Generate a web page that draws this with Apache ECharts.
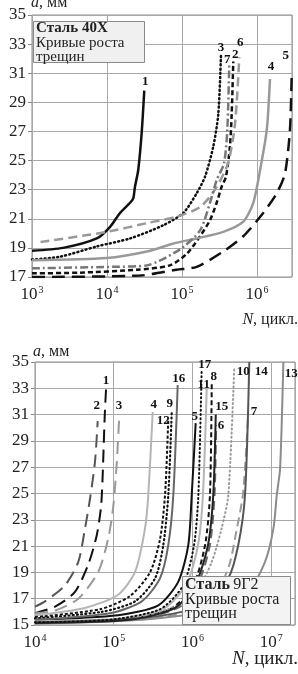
<!DOCTYPE html>
<html><head><meta charset="utf-8">
<script src="https://cdn.jsdelivr.net/npm/echarts@6/dist/echarts.min.js"></script>
<style>html,body{margin:0;padding:0;background:#fff}#c{width:298px;height:674px}</style>
</head><body><div id="c"></div>
<script>
// ---------- Top chart: Сталь 40Х ----------
const topXExps = [3, 4, 5, 6];
const topYTicks = [17, 35, 2]; // min, max, step
const t1 = [[1000,18.8],[2600,19.0],[7300,19.65],[11000,20.45],[14900,21.4],[20300,22.1],[22400,22.4],[23600,23.2],[26100,24.35],[29000,26.9],[31400,29.8]];
const t2 = [[1000,17.25],[4400,17.3],[25000,17.5],[69000,17.8],[116000,18.6],[174000,19.8],[236000,20.9],[290000,22.1],[338000,23.2],[386000,23.9],[436000,26],[460000,28.2],[483000,31.8]];
const t3 = [[1000,18.2],[2400,18.4],[7300,19.1],[20300,19.65],[56000,20.55],[104000,21.4],[157000,22.75],[203000,23.9],[261000,25.95],[305000,28.2],[331000,32.25]];
const t4 = [[1000,18.15],[9900,18.3],[34000,18.75],[77000,19.3],[157000,19.65],[355000,20.1],[656000,20.8],[893000,22.1],[1100000,24.35],[1350000,27.1],[1490000,30.6]];
const t5 = [[1000,17.0],[27500,17.1],[85000,17.5],[157000,17.7],[355000,18.75],[656000,19.8],[1210000,21.4],[1830000,22.75],[2360000,24.1],[2750000,27.1],[2900000,30.75]];
const t6 = [[1300,19.4],[9900,20.1],[34000,20.7],[85000,21.15],[174000,21.8],[275000,23.0],[410000,24.8],[509000,27.5],[581000,32.1]];
const t7 = [[1000,17.6],[12000,17.7],[34000,17.8],[94000,18.9],[174000,20.2],[236000,22.1],[290000,23.66],[363000,24.8],[402000,27.1],[427000,31.7]];

// ---------- Bottom chart: Сталь 9Г2 ----------
const botXExps = [4, 5, 6, 7];
const botYTicks = [15, 35, 2];
const b1 = [[10000,15.9],[18000,16.4],[32000,17.5],[47500,19.6],[61000,21.85],[69000,24],[72000,26],[74000,28],[77000,31],[80000,33]];
const b2 = [[10000,16.4],[13400,16.8],[24000,18.0],[35500,19.8],[43200,22.35],[50000,24.6],[57800,27.4],[62600,30.5]];
const b3 = [[10000,15.9],[18000,16.1],[35500,17.0],[63700,19.05],[85300,21.6],[99000,24.1],[109000,27.2],[117000,30.6]];
const b4 = [[10000,15.75],[43000,16.3],[114000,17.3],[187000,19.05],[250000,22.35],[275000,24.9],[313000,31.2]];
const b5 = [[10000,15.4],[114000,15.75],[369000,16.5],[662000,18.3],[887000,21.1],[980000,24.9],[1100000,30.35]];
const b6 = [[10000,15.2],[216000,15.5],[695000,16.4],[1210000,18.3],[1670000,21.1],[1910000,24.9],[2000000,30.2]];
const b7 = [[216000,15.4],[933000,16.0],[1940000,17.3],[2920000,19.5],[3580000,22],[4400000,25],[5080000,30.8]];
const b8 = [[10000,15.2],[120000,15.4],[519000,16.2],[1020000,18.0],[1450000,21.1],[1670000,24.9],[1760000,33.4]];
const b9 = [[10000,15.5],[70000,16.0],[187000,16.8],[335000,18.55],[427000,21.1],[494000,24.9],[546000,31.2]];
const b10 = [[10000,15.2],[161000,15.5],[662000,16.5],[1190000,17.8],[1760000,19.8],[2350000,22.35],[2860000,24.9],[3400000,34.6]];
const b11 = [[10000,15.3],[120000,15.5],[449000,16.3],[853000,18.2],[1180000,21.1],[1360000,24.9],[1520000,33]];
const b12 = [[10000,15.6],[67000,16.2],[161000,17.2],[289000,19.0],[387000,21.5],[449000,24.9],[494000,30.7]];
const b13 = [[10000,15.1],[120000,15.3],[805000,15.75],[2350000,16.3],[5130000,17.5],[8360000,19.8],[10700000,22.35],[11800000,24.9],[13000000,26.9],[14300000,35]];
const b14 = [[10000,15.2],[187000,15.5],[731000,16.0],[1590000,16.8],[2860000,18.55],[3830000,21.1],[4660000,24.9],[5280000,35.0]];
const b15 = [[10000,15.15],[161000,15.4],[601000,16.3],[1110000,18.2],[1580000,21.1],[1840000,24.9],[1980000,31.0]];
const b16 = [[10000,15.4],[90000,15.9],[227000,16.8],[387000,18.55],[494000,21.1],[572000,24.9],[650000,33.25]];
const b17 = [[10000,15.2],[90000,15.4],[387000,16.2],[759000,18.0],[1050000,21.1],[1190000,24.9],[1310000,34.4]];

const FONT = 'Liberation Serif';
const DOT = [1, 3.2], SDASH = [5, 3], LDASH = [13, 7], MDASH = [9, 5], DASHDOT = [8, 3, 2, 3];

function curve(name, data, gi, color, type, width, off) {
  const last = data[data.length - 1];
  return {
    type: 'line', name, data, xAxisIndex: gi, yAxisIndex: gi,
    showSymbol: false, symbol: 'none', smooth: 0.25, z: 3,
    lineStyle: { color, type, width, cap: type === DOT ? 'round' : 'butt' },
    silent: true, animation: false,
    markPoint: {
      symbol: 'circle', symbolSize: 1, itemStyle: { color: 'rgba(0,0,0,0)' }, animation: false,
      label: { show: true, position: 'inside', formatter: name, offset: off, color: '#111',
        fontFamily: FONT, fontWeight: 'bold', fontSize: 13 },
      data: [{ coord: last }]
    }
  };
}

function xLabel(exps) {
  return function (v) {
    const l = Math.log10(v), e = Math.round(l);
    if (Math.abs(l - e) > 1e-6 || exps.indexOf(e) < 0) return '';
    return '{b|10}{s|' + e + '}';
  };
}
const xRich = {
  b: { fontFamily: FONT, fontSize: 17, color: '#222', lineHeight: 20 },
  s: { fontFamily: FONT, fontSize: 10, color: '#222', verticalAlign: 'top', lineHeight: 20, padding: [0, 0, 0, 1] }
};
function xAxis(gi, exps, maxV) {
  return {
    type: 'log', logBase: 10, gridIndex: gi, min: Math.pow(10, exps[0]), max: maxV,
    axisLine: { show: false }, axisTick: { show: false },
    axisLabel: { formatter: xLabel(exps), rich: xRich, margin: 8, showMaxLabel: false, hideOverlap: false },
    splitLine: { show: true, lineStyle: { color: '#a8a8a8', width: 1 } }, minorSplitLine: { show: false }
  };
}
function yAxis(gi, t) {
  return {
    type: 'value', gridIndex: gi, min: t[0], max: t[1], interval: t[2],
    axisLine: { show: false },
    axisTick: { show: true, length: 4, lineStyle: { color: '#888' } },
    axisLabel: { fontFamily: FONT, fontSize: 17, color: '#222', margin: 6 },
    splitLine: { show: true, lineStyle: { color: '#a8a8a8', width: 1 } }
  };
}

const K = '#111', DG = '#555', G = '#8c8c8c', LG = '#b5b5b5';
const series = [
  curve('1', t1, 0, K, 'solid', 2.5, [1, -9]),
  curve('2', t2, 0, K, SDASH, 2.5, [2, -7]),
  curve('3', t3, 0, K, DOT, 2.5, [0, -7]),
  curve('4', t4, 0, '#999', 'solid', 2.5, [1, -12]),
  curve('5', t5, 0, K, LDASH, 2.5, [-6, -21]),
  curve('6', t6, 0, '#999', MDASH, 2.5, [1, -15]),
  curve('7', t7, 0, '#777', DASHDOT, 2.5, [-2, -3]),

  curve('1', b1, 1, K, LDASH, 2, [0, -8]),
  curve('2', b2, 1, DG, LDASH, 2, [-1, -16]),
  curve('3', b3, 1, '#999', LDASH, 2, [0, -14]),
  curve('4', b4, 1, LG, 'solid', 2, [1, -7]),
  curve('5', b5, 1, K, 'solid', 2, [-1, -7]),
  curve('6', b6, 1, '#666', MDASH, 2, [5, 1]),
  curve('7', b7, 1, '#999', MDASH, 2, [6, -6]),
  curve('8', b8, 1, K, SDASH, 2, [2, -6]),
  curve('9', b9, 1, K, DOT, 2.2, [-2, -8]),
  curve('10', b10, 1, '#999', DOT, 2, [9, 4]),
  curve('11', b11, 1, LG, 'solid', 2, [-3, -4]),
  curve('12', b12, 1, K, [3, 2], 2, [-5, 2]),
  curve('13', b13, 1, G, 'solid', 2, [8, 12]),
  curve('14', b14, 1, DG, 'solid', 2, [12, 10]),
  curve('15', b15, 1, '#222', 'solid', 2, [6, -8]),
  curve('16', b16, 1, '#666', 'solid', 2, [1, -6]),
  curve('17', b17, 1, K, DOT, 2, [3, -5])
];

const chart = echarts.init(document.getElementById('c'), null, { renderer: 'canvas' });
chart.setOption({
  backgroundColor: '#fff',
  animation: false,
  grid: [
    { left: 32, top: 15, width: 260, height: 262, show: true, borderColor: '#8a8a8a', borderWidth: 1, backgroundColor: 'transparent' },
    { left: 35, top: 362, width: 260, height: 263, show: true, borderColor: '#8a8a8a', borderWidth: 1, backgroundColor: 'transparent' }
  ],
  xAxis: [xAxis(0, topXExps, 2.93e6), xAxis(1, botXExps, 2.01e7)],
  yAxis: [yAxis(0, topYTicks), yAxis(1, botYTicks)],
  series,
  graphic: [
    { type: 'text', z: 100, x: 31, y: 3, style: { text: '{i|a}, мм', fontFamily: FONT, fontSize: 16, fill: '#222', verticalAlign: 'middle',
        rich: { i: { fontStyle: 'italic', fontFamily: FONT, fontSize: 16 } } } },
    { type: 'text', z: 100, x: 33, y: 352, style: { text: '{i|a}, мм', fontFamily: FONT, fontSize: 16, fill: '#222', verticalAlign: 'middle',
        rich: { i: { fontStyle: 'italic', fontFamily: FONT, fontSize: 16 } } } },
    { type: 'text', z: 100, x: 298, y: 320, style: { text: '{i|N}, цикл.', fontFamily: FONT, fontSize: 16, fill: '#222', align: 'right', verticalAlign: 'middle',
        rich: { i: { fontStyle: 'italic', fontFamily: FONT, fontSize: 16 } } } },
    { type: 'text', z: 100, x: 298, y: 659, style: { text: '{i|N}, цикл.', fontFamily: FONT, fontSize: 19, fill: '#222', align: 'right', verticalAlign: 'middle',
        rich: { i: { fontStyle: 'italic', fontFamily: FONT, fontSize: 19 } } } },
    { type: 'rect', z: 100, shape: { x: 33.5, y: 21.5, width: 111, height: 41 }, style: { fill: '#f0f0f0', stroke: '#8a8a8a', lineWidth: 1 } },
    { type: 'text', z: 101, x: 36, y: 21, style: { text: '{b|Сталь 40Х}\n{n|Кривые роста}\n{n|трещин}', fill: '#222', verticalAlign: 'top',
        rich: { b: { fontFamily: FONT, fontWeight: 'bold', fontSize: 15, lineHeight: 14.5 }, n: { fontFamily: FONT, fontSize: 15, lineHeight: 14.5 } } } },
    { type: 'rect', z: 100, shape: { x: 182.5, y: 576.5, width: 108, height: 48 }, style: { fill: '#f3f3f3', stroke: '#8a8a8a', lineWidth: 1 } },
    { type: 'text', z: 101, x: 185, y: 578, style: { text: '{b|Сталь} {n|9Г2}\n{n|Кривые роста}\n{n|трещин}', fill: '#222', verticalAlign: 'top',
        rich: { b: { fontFamily: FONT, fontWeight: 'bold', fontSize: 16, lineHeight: 14.5 }, n: { fontFamily: FONT, fontSize: 16, lineHeight: 14.5 } } } }
  ]
});
</script></body></html>
